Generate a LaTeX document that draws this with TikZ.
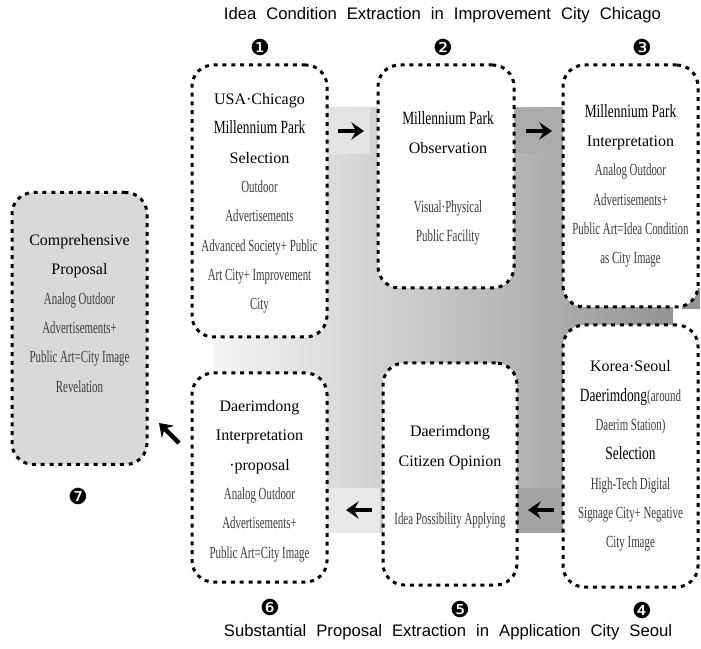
\documentclass[tikz,border=0pt]{standalone}
\usepackage{fontspec}
\setmainfont{Liberation Serif}
\newfontfamily\hdf{Liberation Serif}
\newfontfamily\cbf[FakeStretch=0.72]{Liberation Serif}
\newfontfamily\csf[FakeStretch=0.64]{Liberation Serif}
\newfontfamily\ttlf{Liberation Sans}
\newfontfamily\numf{DejaVu Sans}
\usetikzlibrary{arrows.meta}
\definecolor{subgray}{HTML}{3C3C3C}
\newcommand\Hd{\hdf\fontsize{12pt}{22pt}\selectfont\color{black}}
\newcommand\Cb{\cbf\fontsize{14pt}{22pt}\selectfont\color{black}}
\newcommand\Sb{\csf\fontsize{12.75pt}{22pt}\selectfont\color{subgray}}
\newcommand\Ttl{\ttlf\fontsize{12.5pt}{15pt}\selectfont\setlength{\spaceskip}{0.6em}}
\tikzset{
  box/.style={draw, line width=2.25pt, dash pattern=on 3pt off 3.6pt, rounded corners=16pt, fill=white, inner sep=0pt},
  graybox/.style={box, fill=black!15},
  boxtxt/.style={align=center, inner sep=0pt, font=\hdf\fontsize{12pt}{22pt}\selectfont},
  num/.style={font=\numf\fontsize{16.5pt}{16.5pt}\selectfont, inner sep=0pt},
  ttl/.style={inner sep=0pt},
  bigarrow/.style={line width=3.2pt, -{Stealth[length=9.5pt,width=13pt,inset=3.5pt]}}
}
\begin{document}
\begin{tikzpicture}[x=0.75pt, y=-0.75pt]
\useasboundingbox (0,0) rectangle (701,649);
% gray gradient background band
\shade[left color=black!4, right color=black!42] (213,108) rectangle (673,533);
\fill[black!42] (682,288) rectangle (700,309);
% arrow squares
\fill[black!11] (325,108) rectangle (370,154);
\fill[black!33] (513,108) rectangle (560,153);
\fill[black!9] (325,488) rectangle (380,533);
\fill[black!36] (517,488) rectangle (563,533);
% boxes
\node[box, minimum width=101.25pt, minimum height=204pt] (b1) at (259.5,201) {};
\node[box, minimum width=102pt, minimum height=167.25pt] (b2) at (446,176.5) {};
\node[box, minimum width=101.25pt, minimum height=181.5pt] (b3) at (630.5,186) {};
\node[box, minimum width=101.25pt, minimum height=196.5pt] (b4) at (630.5,456) {};
\node[box, minimum width=100.5pt, minimum height=166.5pt] (b5) at (450,474) {};
\node[box, minimum width=101.25pt, minimum height=156.75pt] (b6) at (259.5,477.5) {};
\node[graybox, minimum width=101.25pt, minimum height=204pt] (b7) at (79.5,328.5) {};
% box texts
\node[boxtxt] (t1) at (259.5,203.5) {\Hd USA·Chicago\\ \Cb Millennium Park\\ \Hd Selection\\ \Sb Outdoor\\ \Sb Advertisements\\ \Sb Advanced Society+ Public\\ \Sb Art City+ Improvement\\ \Sb City};
\node[boxtxt] (t2) at (448,178.5) {\Cb Millennium Park\\ \Hd Observation\\[22pt] \Sb Visual·Physical\\ \Sb Public Facility};
\node[boxtxt] (t3) at (630.5,186) {\Cb Millennium Park\\ \Hd Interpretation\\ \Sb Analog Outdoor\\ \Sb Advertisements+\\ \Sb Public Art=Idea Condition\\ \Sb as City Image};
\node[boxtxt] (t4) at (630.5,456) {\Hd Korea·Seoul\\ {\Cb Daerimdong}{\Sb(around}\\ \Sb Daerim Station)\\ \Cb Selection\\ \Sb High-Tech Digital\\ \Sb Signage City+ Negative\\ \Sb City Image};
\node[boxtxt] (t5) at (450,477) {\Hd Daerimdong\\ \Hd Citizen Opinion\\[22pt] \Sb Idea Possibility Applying};
\node[boxtxt] (t6) at (259.5,481) {\Hd Daerimdong\\ \Hd Interpretation\\ \Hd ·proposal\\ \Sb Analog Outdoor\\ \Sb Advertisements+\\ \Sb Public Art=City Image};
\node[boxtxt] (t7) at (79.5,313.5) {\Hd Comprehensive\\ \Hd Proposal\\ \Sb Analog Outdoor\\ \Sb Advertisements+\\ \Sb Public Art=City Image\\ \Sb Revelation};
% numbers
\node[num] (n1) at (260,47) {❶};
\node[num] (n2) at (443,47) {❷};
\node[num] (n3) at (642,47) {❸};
\node[num] (n4) at (642,610) {❹};
\node[num] (n5) at (460,609) {❺};
\node[num] (n6) at (270,607) {❻};
\node[num] (n7) at (78,496) {❼};
% titles
\node[ttl] (top) at (442.5,15) {\Ttl Idea Condition Extraction in Improvement City Chicago};
\node[ttl] (bot) at (448,632) {\Ttl Substantial Proposal Extraction in Application City Seoul};
% arrows
\coordinate (a1s) at (338,131); \coordinate (a1e) at (364,131);
\coordinate (a2s) at (526,131); \coordinate (a2e) at (552,131);
\coordinate (a3s) at (372,510); \coordinate (a3e) at (346,510);
\coordinate (a4s) at (554,510); \coordinate (a4e) at (528,510);
\coordinate (a5s) at (179,443); \coordinate (a5e) at (159,423);
\draw[bigarrow] (a1s) -- (a1e);
\draw[bigarrow] (a2s) -- (a2e);
\draw[bigarrow] (a3s) -- (a3e);
\draw[bigarrow] (a4s) -- (a4e);
\draw[bigarrow] (a5s) -- (a5e);
\end{tikzpicture}
\end{document}
